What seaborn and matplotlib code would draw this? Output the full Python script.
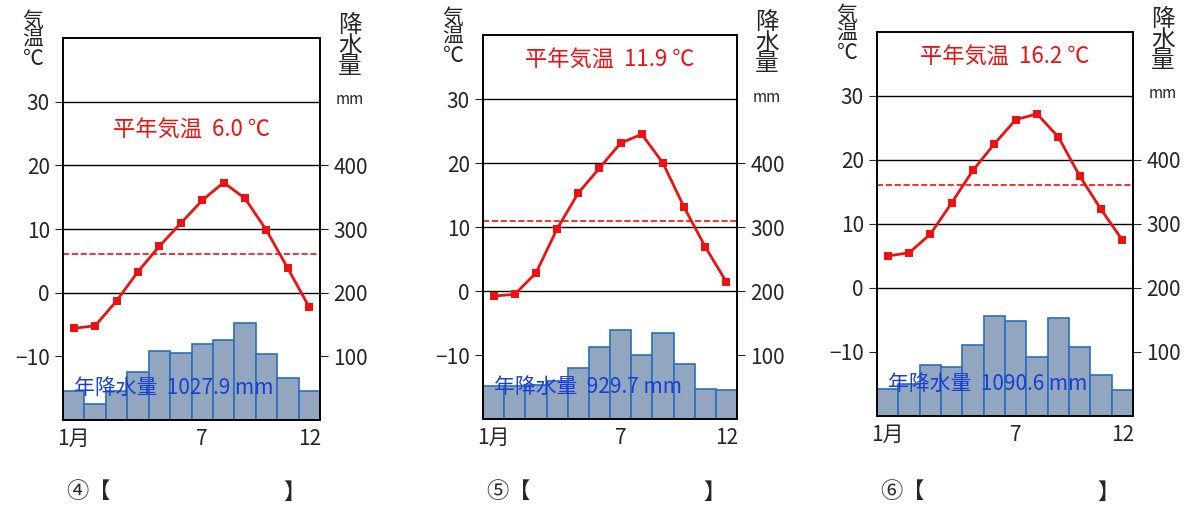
import numpy as np
import pandas as pd
import seaborn as sns
from matplotlib import pyplot as plt

months = list(range(1, 13))
temp4 = [-5.6, -5.2, -1.3, 3.3, 7.3, 10.9, 14.5, 17.3, 14.8, 9.8, 3.8, -2.3]
prec4 = [45, 25, 45, 75, 108, 106, 119, 125, 152, 103, 66, 45]
temp5 = [-0.8, -0.5, 2.8, 9.7, 15.3, 19.2, 23.1, 24.5, 20.0, 13.1, 6.9, 1.4]
prec5 = [52, 52, 53, 60, 80, 112, 139, 100, 134, 86, 47, 45]
temp6 = [5.0, 5.5, 8.4, 13.3, 18.4, 22.5, 26.3, 27.2, 23.6, 17.5, 12.3, 7.5]
prec6 = [42, 50, 80, 77, 111, 156, 148, 92, 153, 108, 64, 41]
mean_temps = [6.0, 11.9, 16.2]
mean_lines = [6.0, 10.9, 16.1]
annual_prec = ["1027.9", "929.7", "1090.6"]
marks = ["④", "⑤", "⑥"]

sns.set_style("white")
plt.rcParams['font.family'] = ['Noto Sans CJK JP', 'DejaVu Sans']

W, H = 1200, 530
fig = plt.figure(figsize=(12, 5.3), dpi=100)
panels = [(63, 38, 257, 382), (483, 35, 254, 384), (877, 32, 256, 384)]
temps = [temp4, temp5, temp6]
precs = [prec4, prec5, prec6]
title_y = [25.5, 36, 36]  # degrees where 平年気温 text sits

for i, (x0, y0, w, h) in enumerate(panels):
    ax = fig.add_axes([x0 / W, 1 - (y0 + h) / H, w / W, h / H])
    ax2 = ax.twinx()
    ax.set_zorder(ax2.get_zorder() + 1)
    ax.patch.set_visible(False)
    df = pd.DataFrame({"month": months, "temp": temps[i], "prec": precs[i]})
    ax2.bar(df["month"], df["prec"], width=1.0, color="#93a6bf",
            edgecolor="#2a6ebb", linewidth=1.2)
    ax2.set_ylim(0, 600)
    ax2.set_yticks([100, 200, 300, 400])
    ax2.tick_params(axis="y", labelsize=15, length=6, direction="out")
    for t in [30, 20, 10, 0]:
        ax.axhline(t, color="black", lw=1, zorder=0)
    sns.lineplot(data=df, x="month", y="temp", ax=ax, color="#ee1111",
                 marker="s", markersize=6, markeredgewidth=0, lw=2)
    ax.axhline(mean_lines[i], color="#ee1111", ls="--", lw=1.2)
    ax.set_xlim(0.5, 12.5)
    ax.set_ylim(-20, 40)
    ax.set_yticks([30, 20, 10, 0, -10])
    ax.set_xticks([1, 7, 12])
    ax.set_xticklabels(["1月", "7", "12"])
    ax.tick_params(axis="y", labelsize=15, length=6, direction="out", left=True)
    ax.tick_params(axis="x", labelsize=15, length=0, pad=6)
    ax.set_xlabel("")
    ax.set_ylabel("")
    for a in (ax, ax2):
        for s in a.spines.values():
            s.set_color("black")
            s.set_linewidth(1.2)
    ax.text(6.5, title_y[i], f"平年気温  {mean_temps[i]} ℃", color="#ee1111",
            fontsize=16, ha="center", va="center")
    ax.text(1.0, -15, f"年降水量  {annual_prec[i]} mm", color="#1a3fd6",
            fontsize=15, ha="left", va="center")
    fig.text((x0 - 30) / W, 1 - (y0 + 2) / H, "気\n温\n℃", fontsize=15,
             ha="center", va="center", linespacing=0.85)
    fig.text((x0 + w + 30) / W, 1 - (y0 + 8) / H, "降\n水\n量", fontsize=17,
             ha="center", va="center", linespacing=0.85)
    fig.text((x0 + w + 30) / W, 1 - (y0 + 62) / H, "mm", fontsize=11,
             ha="center", va="center")
    fig.text((x0 + 3) / W, 1 - 492 / H, marks[i] + "【", fontsize=16,
             ha="left", va="center")
    fig.text((x0 + 220) / W, 1 - 492 / H, "】", fontsize=16,
             ha="left", va="center")

fig.savefig("out.png", dpi=100)
